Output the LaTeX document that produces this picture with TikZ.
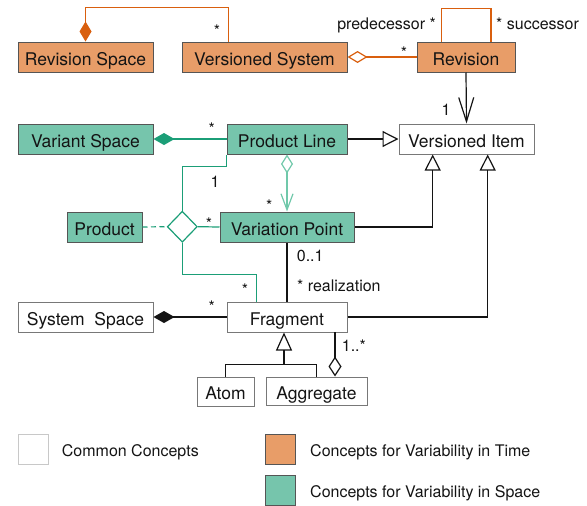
\documentclass[tikz,border=0pt]{standalone}
\usepackage{fontspec}
\setmainfont{TeX Gyre Heros}
\usetikzlibrary{arrows.meta,shapes.geometric}

\definecolor{textc}{RGB}{20,20,20}
\definecolor{linec}{RGB}{20,20,20}
\definecolor{timefill}{RGB}{232,157,104}
\definecolor{timeline}{RGB}{217,95,14}
\definecolor{spacefill}{RGB}{118,197,172}
\definecolor{spaceline}{RGB}{27,158,119}
\definecolor{lightspace}{RGB}{112,200,170}
\definecolor{darkborder}{RGB}{85,85,85}
\definecolor{commonborder}{RGB}{120,120,120}
\definecolor{legendgrey}{RGB}{200,200,200}

\tikzset{
  box/.style={draw, line width=1pt, minimum height=30pt, inner sep=0pt,
    font=\fontsize{17.5}{20}\selectfont, text height=16pt, text depth=0pt, text=textc},
  common/.style={box, draw=commonborder, fill=white},
  timebox/.style={box, draw=darkborder, fill=timefill},
  spacebox/.style={box, draw=darkborder, fill=spacefill},
  lbl/.style={font=\fontsize{16}{18}\selectfont, inner sep=0pt, text=textc},
  legendbox/.style={line width=1pt, minimum size=30pt, inner sep=0pt, draw},
  conn/.style={line width=1.2pt, draw=linec},
  tline/.style={line width=1.2pt, draw=timeline},
  sline/.style={line width=1.2pt, draw=spaceline},
  lsline/.style={line width=1.2pt, draw=lightspace},
}

\begin{document}
\begin{tikzpicture}[x=1pt,y=-1pt]
\useasboundingbox (0,0) rectangle (587,506);

% classes
\node[timebox, minimum width=135pt] (revspace) at (85.5,57) {Revision Space};
\node[timebox, minimum width=165pt] (versys) at (264.5,57) {Versioned System};
\node[timebox, minimum width=98pt] (revision) at (466,57) {Revision};
\node[spacebox, minimum width=135pt] (varspace) at (85.5,139) {Variant Space};
\node[spacebox, minimum width=120pt] (prodline) at (287,139) {Product Line};
\node[common, minimum width=135pt] (veritem) at (466.5,139) {Versioned Item};
\node[spacebox, minimum width=75pt] (product) at (104.5,227) {Product};
\node[spacebox, minimum width=134pt] (varpoint) at (287,227) {Variation Point};
\node[diamond, draw=spaceline, line width=1.2pt, fill=white, minimum width=30pt,
  minimum height=31pt, inner sep=0pt] (nary) at (182.3,226.7) {};
\node[common, minimum width=135pt] (sysspace) at (85.5,317) {System~ Space};
\node[common, minimum width=120pt] (fragment) at (287,317) {Fragment};
\node[common, minimum width=57pt, minimum height=29pt] (atom) at (225.5,391.5) {Atom};
\node[common, minimum width=101pt, minimum height=28pt] (aggregate) at (316.5,391) {Aggregate};

% time connectors
\draw[tline, arrows={Diamond[length=20pt,width=12pt]-}]
  (revspace.north) -- ++(0,-34) -| ([xshift=-36.2pt]versys.north);
\draw[tline, arrows={Diamond[open,length=20pt,width=12pt]-}] (versys.east) -- (revision.west);
\draw[tline] ([xshift=-24.5pt]revision.north) -- ++(0,-33) -| ([xshift=25pt]revision.north);
\draw[conn, arrows={-Straight Barb[length=24pt,width=15pt]}] (revision.south) -- (veritem.north);

% space connectors
\draw[sline, arrows={Diamond[length=21pt,width=12pt]-}] (varspace.east) -- (prodline.west);
\draw[conn, arrows={-Triangle[open,length=16pt,width=16pt]}] (prodline.east) -- (veritem.west);
\draw[lsline, arrows={Diamond[open,length=19pt,width=12pt]-Straight Barb[length=16pt,width=12pt]}]
  (prodline.south) -- (varpoint.north);
\draw[sline, dash pattern=on 5pt off 3.5pt] (product.east) -- (nary.west);
\draw[sline] (nary.north) -- ++(0,-44.5) -| (prodline.south west);
\draw[sline] (nary.east) -- (varpoint.west);
\draw[sline] (nary.south) -- ++(0,31.8) -| ([xshift=29.7pt]fragment.north west);

% common connectors
\draw[conn, arrows={-Triangle[open,length=16pt,width=16pt]}]
  (varpoint.east) -| ([xshift=-33.8pt]veritem.south);
\draw[conn, arrows={-Triangle[open,length=16pt,width=16pt]}]
  (fragment.east) -| ([xshift=21.2pt]veritem.south);
\draw[conn] (varpoint.south) -- (fragment.north);
\draw[conn, arrows={Diamond[length=21pt,width=12pt]-}] (sysspace.east) -- (fragment.west);
\coordinate (genjoin) at (284,364.3);
\draw[conn] (atom.north) |- (genjoin) -| (aggregate.north);
\draw[conn, arrows={-Triangle[open,length=18pt,width=16pt]}] (genjoin) -- (genjoin |- fragment.south);
\draw[conn, arrows={Diamond[open,length=20pt,width=13pt]-}]
  ([xshift=18.5pt]aggregate.north) -- ++(0,-45);

% multiplicities and roles
\node[lbl, anchor=base] (m1) at (217,36.5) {*};
\node[lbl, anchor=base east] (rpred) at (436,29.5) {predecessor *};
\node[lbl, anchor=base west] (rsucc) at (496,29.5) {* successor};
\node[lbl, anchor=base] (m2) at (404,58) {*};
\node[lbl, anchor=base] (m3) at (446,115.7) {1};
\node[lbl, anchor=base] (m4) at (211.7,134) {*};
\node[lbl, anchor=base] (m5) at (215,187.3) {1};
\node[lbl, anchor=base] (m6) at (209,229.8) {*};
\node[lbl, anchor=base] (m7) at (269.3,211.5) {*};
\node[lbl, anchor=base west] (m8) at (296.7,261.7) {0..1};
\node[lbl, anchor=base west] (rreal) at (297,291.7) {* realization};
\node[lbl, anchor=base] (m9) at (245,295.5) {*};
\node[lbl, anchor=base] (m10) at (211.7,312) {*};
\node[lbl, anchor=base west] (m11) at (341.7,351.7) {1..*};

% legend
\node[legendbox, draw=legendgrey, fill=white] (lcommon) at (33,449) {};
\node[lbl, anchor=base west] (lcommontxt) at (61.7,456) {Common Concepts};
\node[legendbox, draw=darkborder, fill=timefill] (ltime) at (280,449) {};
\node[lbl, anchor=base west] (ltimetxt) at (310,456) {Concepts for Variability in Time};
\node[legendbox, draw=darkborder, fill=spacefill] (lspace) at (280,490) {};
\node[lbl, anchor=base west] (lspacetxt) at (310,497.5) {Concepts for Variability in Space};
\end{tikzpicture}
\end{document}
